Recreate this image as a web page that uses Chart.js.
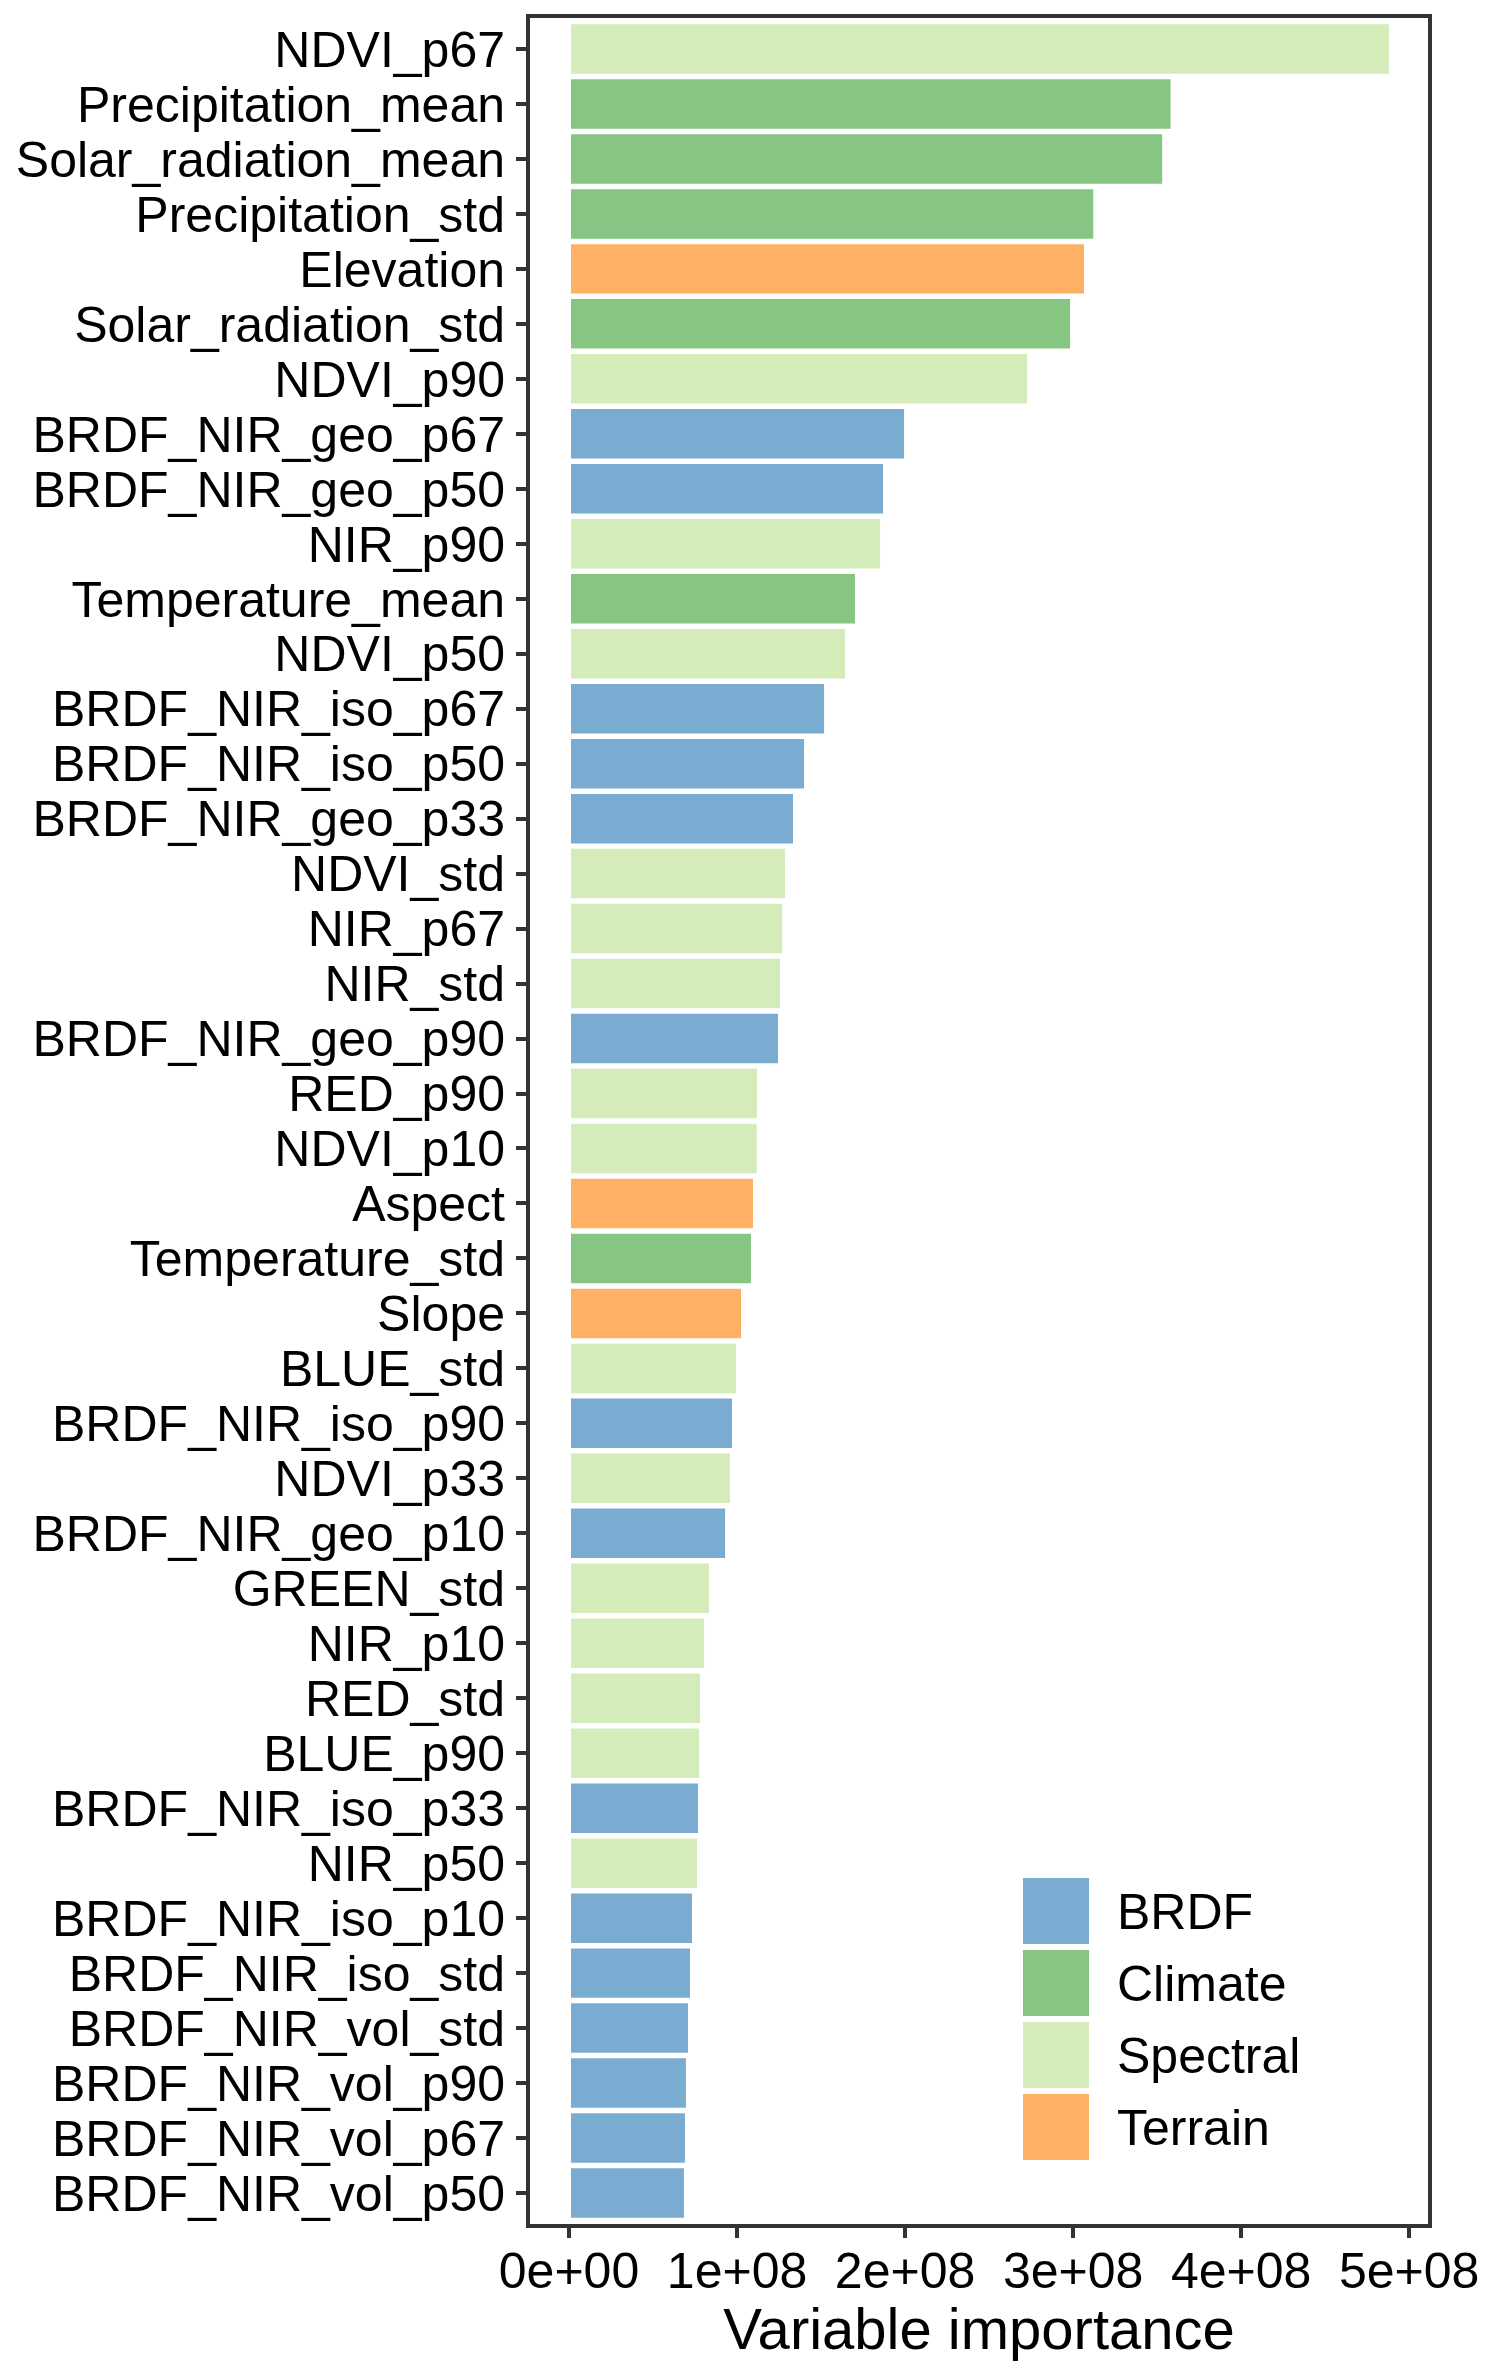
<!DOCTYPE html>
<html>
<head>
<meta charset="utf-8">
<script src="https://cdn.jsdelivr.net/npm/chart.js@4.4.1/dist/chart.umd.min.js"></script>
<style>
  html, body { margin: 0; padding: 0; background: #ffffff; }
  #wrap { width: 1499px; height: 2377px; }
</style>
</head>
<body>
<div id="wrap"><canvas id="c" width="1499" height="2377"></canvas></div>
<script>
// ---------------- data ----------------
const categories = ["NDVI_p67","Precipitation_mean","Solar_radiation_mean","Precipitation_std","Elevation","Solar_radiation_std","NDVI_p90","BRDF_NIR_geo_p67","BRDF_NIR_geo_p50","NIR_p90","Temperature_mean","NDVI_p50","BRDF_NIR_iso_p67","BRDF_NIR_iso_p50","BRDF_NIR_geo_p33","NDVI_std","NIR_p67","NIR_std","BRDF_NIR_geo_p90","RED_p90","NDVI_p10","Aspect","Temperature_std","Slope","BLUE_std","BRDF_NIR_iso_p90","NDVI_p33","BRDF_NIR_geo_p10","GREEN_std","NIR_p10","RED_std","BLUE_p90","BRDF_NIR_iso_p33","NIR_p50","BRDF_NIR_iso_p10","BRDF_NIR_iso_std","BRDF_NIR_vol_std","BRDF_NIR_vol_p90","BRDF_NIR_vol_p67","BRDF_NIR_vol_p50"];
const importance = [4.88e8,3.58e8,3.53e8,3.12e8,3.065e8,2.982e8,2.726e8,1.994e8,1.869e8,1.851e8,1.702e8,1.643e8,1.518e8,1.399e8,1.333e8,1.286e8,1.268e8,1.256e8,1.244e8,1.119e8,1.117e8,1.095e8,1.083e8,1.024e8,0.994e8,0.970e8,0.958e8,0.929e8,0.833e8,0.804e8,0.780e8,0.774e8,0.768e8,0.762e8,0.732e8,0.720e8,0.708e8,0.696e8,0.690e8,0.684e8];
const groups = ["Spectral","Climate","Climate","Climate","Terrain","Climate","Spectral","BRDF","BRDF","Spectral","Climate","Spectral","BRDF","BRDF","BRDF","Spectral","Spectral","Spectral","BRDF","Spectral","Spectral","Terrain","Climate","Terrain","Spectral","BRDF","Spectral","BRDF","Spectral","Spectral","Spectral","Spectral","BRDF","Spectral","BRDF","BRDF","BRDF","BRDF","BRDF","BRDF"];
const legendGroups = ["BRDF","Climate","Spectral","Terrain"];
const groupColors = ["#7AACD1","#86C682","#D3ECBA","#FEB065"];
const xTickValues = [0, 1e8, 2e8, 3e8, 4e8, 5e8];
const xTickLabels = ["0e+00","1e+08","2e+08","3e+08","4e+08","5e+08"];
const xTitle = "Variable importance";

// ---------------- chart ----------------
const FONT = "'Liberation Sans', Arial, Helvetica, sans-serif";
const colorOf = g => groupColors[legendGroups.indexOf(g)];
const CAT_EXPAND = 0.6; // discrete-axis expansion (in category units) on each side

const frameAndLegend = {
  id: 'frameAndLegend',
  afterDraw(chart) {
    const ctx = chart.ctx;
    const a = chart.chartArea;
    ctx.save();
    // panel border
    ctx.strokeStyle = '#333333';
    ctx.lineWidth = 4;
    ctx.strokeRect(a.left, a.top, a.right - a.left, a.bottom - a.top);
    // legend inside panel (bottom right)
    const keyX = a.left + 495, keyY0 = a.bottom - 348, key = 66, pitch = 72;
    ctx.font = "50px " + FONT;
    ctx.textAlign = 'left';
    ctx.textBaseline = 'alphabetic';
    legendGroups.forEach((g, i) => {
      const y = keyY0 + i * pitch;
      ctx.fillStyle = groupColors[i];
      ctx.fillRect(keyX, y, key, key);
      ctx.fillStyle = '#000000';
      ctx.fillText(g, keyX + 94, y + key / 2 + 0.358 * 50);
    });
    ctx.restore();
  }
};

new Chart(document.getElementById('c'), {
  type: 'bar',
  data: {
    labels: categories,
    datasets: [{
      data: importance,
      backgroundColor: groups.map(colorOf),
      borderWidth: 0,
      categoryPercentage: 0.9,
      barPercentage: 1.0
    }]
  },
  options: {
    indexAxis: 'y',
    responsive: false,
    animation: false,
    devicePixelRatio: 1,
    layout: { padding: { top: 16, right: 69, bottom: 0, left: 0 } },
    plugins: { legend: { display: false }, tooltip: { enabled: false } },
    scales: {
      x: {
        type: 'linear',
        min: -0.244e8,
        max: 5.124e8,
        afterBuildTicks: s => { s.ticks = xTickValues.map(v => ({ value: v })); },
        afterFit: s => { s.height = 151; s.paddingLeft = 0; s.paddingRight = 0; },
        grid: { drawOnChartArea: false, drawTicks: true, tickLength: 12, color: '#333333', lineWidth: 4 },
        border: { display: false },
        ticks: {
          autoSkip: false, maxRotation: 0, minRotation: 0,
          color: '#000000', padding: 6,
          font: { family: FONT, size: 50 },
          callback: (v, i) => xTickLabels[i]
        },
        title: {
          display: true, text: xTitle, color: '#000000',
          font: { family: FONT, size: 58 },
          padding: { top: 0, bottom: 9 }
        }
      },
      y: {
        type: 'category',
        offset: true,
        afterBuildTicks: s => {
          const n = s.getLabels().length;
          s._startValue = s.min - CAT_EXPAND;
          s._valueRange = (n - 1) + 2 * CAT_EXPAND;
        },
        afterFit: s => { s.width = 528; s.paddingTop = 0; s.paddingBottom = 0; },
        grid: { offset: false, drawOnChartArea: false, drawTicks: true, tickLength: 12, color: '#333333', lineWidth: 4 },
        border: { display: false },
        ticks: {
          autoSkip: false, color: '#000000', padding: 11, labelOffset: 4,
          font: { family: FONT, size: 50 }
        }
      }
    }
  },
  plugins: [frameAndLegend]
});
</script>
</body>
</html>
